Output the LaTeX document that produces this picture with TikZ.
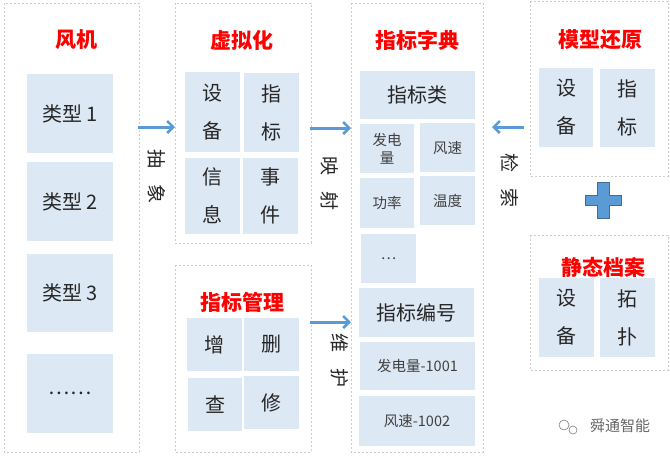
\documentclass[tikz,border=0pt]{standalone}
\usepackage{fontspec}
\setmainfont{Noto Sans CJK SC}
\usetikzlibrary{arrows.meta}
\definecolor{bx}{HTML}{DDE8F5}
\definecolor{ar}{HTML}{5B9BD5}
\definecolor{tr}{HTML}{FF0000}
\tikzset{
 panel/.style={draw=black!20,dashed,dash pattern=on 2pt off 2pt,line width=0.6pt},
 ttl/.style={text=tr,font=\fontsize{21}{24}\selectfont\bfseries},
 bt/.style={font=\fontsize{20}{38}\selectfont,text=black!85,align=center},
 st/.style={font=\fontsize{14.5}{18}\selectfont,text=black!75,align=center},
 arr/.style={draw=ar,line width=3pt,-{Straight Barb[length=6pt,width=12pt,line width=2.5pt]}},
 vl/.style={rotate=-90,font=\fontsize{19}{20}\selectfont,text=black!85},
}
\newcommand{\bbox}[7]{\fill[bx] (#1,#2) rectangle (#3,#4); \node[#6] (#5) at ({(#1+#3)/2},{(#2+#4)/2}) {#7};}
\begin{document}
\begin{tikzpicture}[x=1pt,y=-1pt]
\useasboundingbox (0,0) rectangle (670,456);
\draw[panel] (4,3) rectangle (139,452);
\draw[panel] (175,3) rectangle (311,243);
\draw[panel] (175,265) rectangle (311,452);
\draw[panel] (351,3) rectangle (483,452);
\draw[panel] (530,1) rectangle (668,176);
\draw[panel] (530,235) rectangle (668,370);
\node[ttl] (t1) at (76,40) {风机};
\node[ttl] (t2) at (242,40) {虚拟化};
\node[ttl] (t3) at (242,302) {指标管理};
\node[ttl] (t4) at (417,40) {指标字典};
\node[ttl] (t5) at (600,40) {模型还原};
\node[ttl] (t6) at (603,267) {静态档案};
\bbox{27}{74}{113}{153}{f1}{bt}{类型 1}
\bbox{27}{162}{113}{241}{f2}{bt}{类型 2}
\bbox{27}{254}{113}{332}{f3}{bt}{类型 3}
\bbox{27}{354}{113}{433}{f4}{bt}{……}
\bbox{185}{72}{240}{152}{v1}{bt}{设\\备}
\bbox{244}{73}{299}{152}{v2}{bt}{指\\标}
\bbox{185}{158}{240}{234}{v3}{bt}{信\\息}
\bbox{243}{158}{298}{234}{v4}{bt}{事\\件}
\bbox{187}{318}{242}{371}{m1}{bt}{增}
\bbox{244}{318}{299}{371}{m2}{bt}{删}
\bbox{188}{378}{242}{431}{m3}{bt}{查}
\bbox{244}{376}{299}{429}{m4}{bt}{修}
\bbox{360}{71}{475}{119}{d1}{bt}{指标类}
\bbox{360}{124}{414}{173}{d2}{st}{发电\\量}
\bbox{420}{123}{475}{172}{d3}{st}{风速}
\bbox{360}{178}{414}{228}{d4}{st}{功率}
\bbox{420}{176}{475}{225}{d5}{st}{温度}
\bbox{361}{234}{416}{283}{d6}{st}{…}
\bbox{359}{288}{474}{337}{d7}{bt}{指标编号}
\bbox{360}{342}{475}{390}{d8}{st}{发电量-1001}
\bbox{359}{396}{475}{446}{d9}{st}{风速-1002}
\bbox{539}{68}{593}{147}{r1}{bt}{设\\备}
\bbox{600}{69}{655}{147}{r2}{bt}{指\\标}
\bbox{539}{278}{594}{357}{s1}{bt}{设\\备}
\bbox{600}{278}{655}{357}{s2}{bt}{拓\\扑}
\fill[ar,draw=ar!70!black,line width=0.6pt] (597,182)--(609,182)--(609,195)--(621,195)--(621,205)--(609,205)--(609,218)--(597,218)--(597,205)--(585,205)--(585,195)--(597,195)--cycle;
\coordinate (a1s) at (138,127); \coordinate (a1e) at (175,127);
\coordinate (a2s) at (310,128); \coordinate (a2e) at (351,128);
\coordinate (a3s) at (310,322); \coordinate (a3e) at (351,322);
\coordinate (a4s) at (524,127); \coordinate (a4e) at (492,127);
\draw[arr] (a1s)--(a1e);
\draw[arr] (a2s)--(a2e);
\draw[arr] (a3s)--(a3e);
\draw[arr] (a4s)--(a4e);
\node[vl] (l1) at (157,176) {抽\hspace{16pt}象};
\node[vl] (l2) at (330,183) {映\hspace{16pt}射};
\node[vl] (l3) at (340,360) {维\hspace{16pt}护};
\node[vl] (l4) at (510,180) {检\hspace{16pt}索};
\node[font=\fontsize{15}{17}\selectfont,text=black!60] (wm) at (620,426) {舜通智能};
\draw[black!50,line width=0.6pt] (564,425) circle (5pt);
\draw[black!50,line width=0.6pt] (573,430) circle (4pt);
\end{tikzpicture}
\end{document}
